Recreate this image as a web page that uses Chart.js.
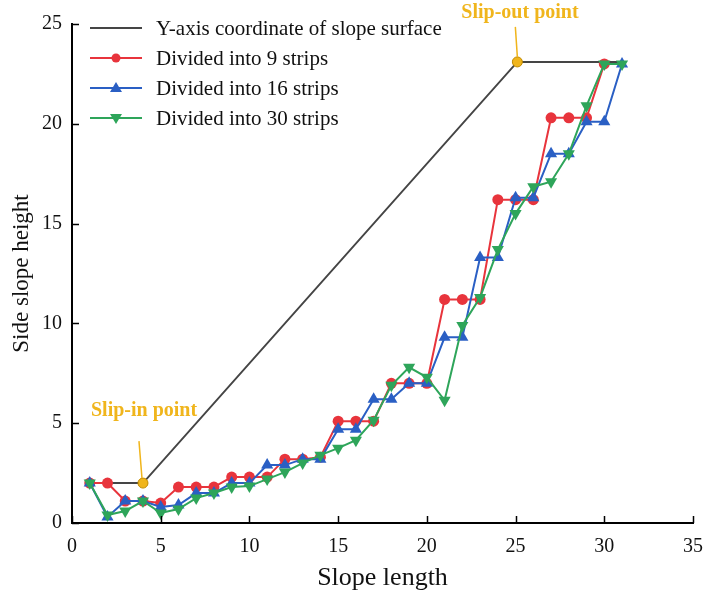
<!DOCTYPE html>
<html>
<head>
<meta charset="utf-8">
<script src="https://cdn.jsdelivr.net/npm/chart.js@4.4.1/dist/chart.umd.min.js"></script>
<style>
  html, body { margin: 0; padding: 0; background: #fff; }
  #wrap { width: 706px; height: 600px; }
</style>
</head>
<body>
<div id="wrap"><canvas id="c" width="706" height="600"></canvas></div>
<script>
const SERIF = "'Liberation Serif', 'DejaVu Serif', serif";

// slope surface (grey line) and the two marked points
const surfaceX = [1, 4, 25.1, 31];
const surfaceY = [2, 2, 23.1, 23.1];

// slip surfaces for each number of strips
const strips = [1, 2, 3, 4, 5, 6, 7, 8, 9, 10, 11, 12, 13, 14, 15, 16, 17, 18, 19, 20, 21, 22, 23, 24, 25, 26, 27, 28, 29, 30, 31];
const nine = [2.0, 2.0, 1.1, 1.1, 1.0, 1.8, 1.8, 1.8, 2.3, 2.3, 2.3, 3.2, 3.2, 3.3, 5.1, 5.1, 5.1, 7.0, 7.0, 7.0, 11.2, 11.2, 11.2, 16.2, 16.2, 16.2, 20.3, 20.3, 20.3, 23.0];
const sixteen = [2.0, 0.3, 1.1, 1.1, 0.8, 0.9, 1.5, 1.5, 2.0, 2.0, 2.9, 2.9, 3.2, 3.2, 4.7, 4.7, 6.2, 6.2, 7.0, 7.0, 9.3, 9.3, 13.3, 13.3, 16.3, 16.3, 18.5, 18.5, 20.1, 20.1, 23.0];
const thirty = [2.0, 0.4, 0.6, 1.1, 0.5, 0.7, 1.25, 1.5, 1.8, 1.85, 2.2, 2.55, 3.0, 3.4, 3.75, 4.15, 5.15, 6.9, 7.8, 7.3, 6.15, 9.9, 11.3, 13.7, 15.5, 16.85, 17.1, 18.5, 20.9, 23.0, 23.0];

const xTicks = [0, 5, 10, 15, 20, 25, 30, 35];
const yTicks = [0, 5, 10, 15, 20, 25];

const legendLabels = [
  'Y-axis coordinate of slope surface',
  'Divided into 9 strips',
  'Divided into 16 strips',
  'Divided into 30 strips',
];

const RED = '#e8343c';
const BLUE = '#2a5fc4';
const GREEN = '#2ea55a';
const GREY = '#454545';
const GOLD = '#f0b51c';

const pts = (xs, ys) => ys.map((y, i) => ({ x: xs[i], y }));

const inwardTicks = {
  id: 'inwardTicks',
  afterDraw(chart) {
    const { ctx, scales: { x, y } } = chart;
    ctx.save();
    ctx.strokeStyle = '#000';
    ctx.lineWidth = 1.5;
    ctx.beginPath();
    xTicks.forEach((v) => {
      const px = Math.round(x.getPixelForValue(v)) + 0.5;
      ctx.moveTo(px, y.bottom);
      ctx.lineTo(px, y.bottom - 7);
    });
    yTicks.forEach((v) => {
      const py = Math.round(y.getPixelForValue(v)) + 0.5;
      ctx.moveTo(x.left, py);
      ctx.lineTo(x.left + 7, py);
    });
    ctx.stroke();
    ctx.restore();
  },
};

const legendPlugin = {
  id: 'insideLegend',
  afterDraw(chart) {
    const ctx = chart.ctx;
    const area = chart.chartArea;
    const x0 = area.left + 18;
    const x1 = x0 + 52;
    const styles = [
      { color: GREY, style: null },
      { color: RED, style: 'circle' },
      { color: BLUE, style: 'triangle' },
      { color: GREEN, style: 'down' },
    ];
    ctx.save();
    ctx.font = `21px ${SERIF}`;
    ctx.textBaseline = 'middle';
    styles.forEach((s, i) => {
      const yy = area.top + 4 + i * 30;
      ctx.strokeStyle = s.color;
      ctx.lineWidth = 2;
      ctx.beginPath();
      ctx.moveTo(x0, yy);
      ctx.lineTo(x1, yy);
      ctx.stroke();
      ctx.fillStyle = s.color;
      const cx = (x0 + x1) / 2;
      if (s.style === 'circle') {
        ctx.beginPath();
        ctx.arc(cx, yy, 4.5, 0, Math.PI * 2);
        ctx.fill();
      } else if (s.style === 'triangle') {
        ctx.beginPath();
        ctx.moveTo(cx, yy - 6);
        ctx.lineTo(cx + 6, yy + 4);
        ctx.lineTo(cx - 6, yy + 4);
        ctx.closePath();
        ctx.fill();
      } else if (s.style === 'down') {
        ctx.beginPath();
        ctx.moveTo(cx, yy + 6);
        ctx.lineTo(cx + 6, yy - 4);
        ctx.lineTo(cx - 6, yy - 4);
        ctx.closePath();
        ctx.fill();
      }
      ctx.fillStyle = '#111';
      ctx.fillText(legendLabels[i], x1 + 14, yy + 1);
    });
    ctx.restore();
  },
};

const slipLabels = {
  id: 'slipLabels',
  afterDraw(chart) {
    const { ctx, scales: { x, y } } = chart;
    const pin = { x: x.getPixelForValue(surfaceX[1]), y: y.getPixelForValue(surfaceY[1]) };
    const pout = { x: x.getPixelForValue(surfaceX[2]), y: y.getPixelForValue(surfaceY[2]) };
    ctx.save();
    ctx.strokeStyle = GOLD;
    ctx.lineWidth = 1.5;
    ctx.beginPath();
    ctx.moveTo(pin.x - 1, pin.y - 5);
    ctx.lineTo(pin.x - 4, pin.y - 42);
    ctx.moveTo(pout.x, pout.y - 5);
    ctx.lineTo(pout.x - 2, pout.y - 35);
    ctx.stroke();
    ctx.fillStyle = GOLD;
    ctx.font = `bold 20px ${SERIF}`;
    ctx.textBaseline = 'middle';
    ctx.textAlign = 'left';
    ctx.fillText('Slip-in point', pin.x - 52, pin.y - 72);
    ctx.fillText('Slip-out point', pout.x - 56, pout.y - 49);
    ctx.restore();
  },
};

new Chart(document.getElementById('c'), {
  type: 'line',
  data: {
    datasets: [
      {
        label: legendLabels[0],
        data: pts(surfaceX, surfaceY),
        borderColor: GREY,
        borderWidth: 2,
        pointRadius: [0, 5, 5, 0],
        pointBackgroundColor: GOLD,
        pointBorderColor: '#c08a00',
        pointBorderWidth: 1,
        order: 3,
      },
      {
        label: legendLabels[1],
        data: pts(strips, nine),
        borderColor: RED,
        backgroundColor: RED,
        borderWidth: 2,
        pointStyle: 'circle',
        pointRadius: 5.5,
        pointBorderWidth: 0,
        order: 2,
      },
      {
        label: legendLabels[2],
        data: pts(strips, sixteen),
        borderColor: BLUE,
        backgroundColor: BLUE,
        borderWidth: 2,
        pointStyle: 'triangle',
        pointRadius: 7,
        pointBorderWidth: 0,
        order: 1,
      },
      {
        label: legendLabels[3],
        data: pts(strips, thirty),
        borderColor: GREEN,
        backgroundColor: GREEN,
        borderWidth: 2,
        pointStyle: 'triangle',
        rotation: 180,
        pointRadius: 7,
        pointBorderWidth: 0,
        order: 0,
      },
    ],
  },
  options: {
    responsive: false,
    animation: false,
    layout: { padding: { left: 0, right: 0, top: 24, bottom: 0 } },
    plugins: { legend: { display: false }, tooltip: { enabled: false } },
    elements: { line: { tension: 0 } },
    scales: {
      x: {
        type: 'linear',
        min: 0,
        max: 35,
        afterBuildTicks: (s) => { s.ticks = xTicks.map((v) => ({ value: v })); },
        afterFit: (s) => { s.height = 77; s.paddingRight = 13; s.paddingLeft = 0; },
        grid: { display: false, drawTicks: false },
        border: { display: true, color: '#000', width: 2 },
        ticks: { color: '#111', font: { family: SERIF, size: 20 }, padding: 12, maxRotation: 0 },
        title: { display: true, text: 'Slope length', color: '#111', font: { family: SERIF, size: 26 }, padding: { top: 0, bottom: 6 } },
      },
      y: {
        type: 'linear',
        min: 0,
        max: 25,
        afterBuildTicks: (s) => { s.ticks = yTicks.map((v) => ({ value: v })); },
        afterFit: (s) => { s.width = 72; },
        grid: { display: false, drawTicks: false },
        border: { display: true, color: '#000', width: 2 },
        ticks: { color: '#111', font: { family: SERIF, size: 20 }, padding: 10 },
        title: { display: true, text: 'Side slope height', color: '#111', font: { family: SERIF, size: 23 }, padding: { top: 8, bottom: 0 } },
      },
    },
  },
  plugins: [inwardTicks, legendPlugin, slipLabels],
});
</script>
</body>
</html>
